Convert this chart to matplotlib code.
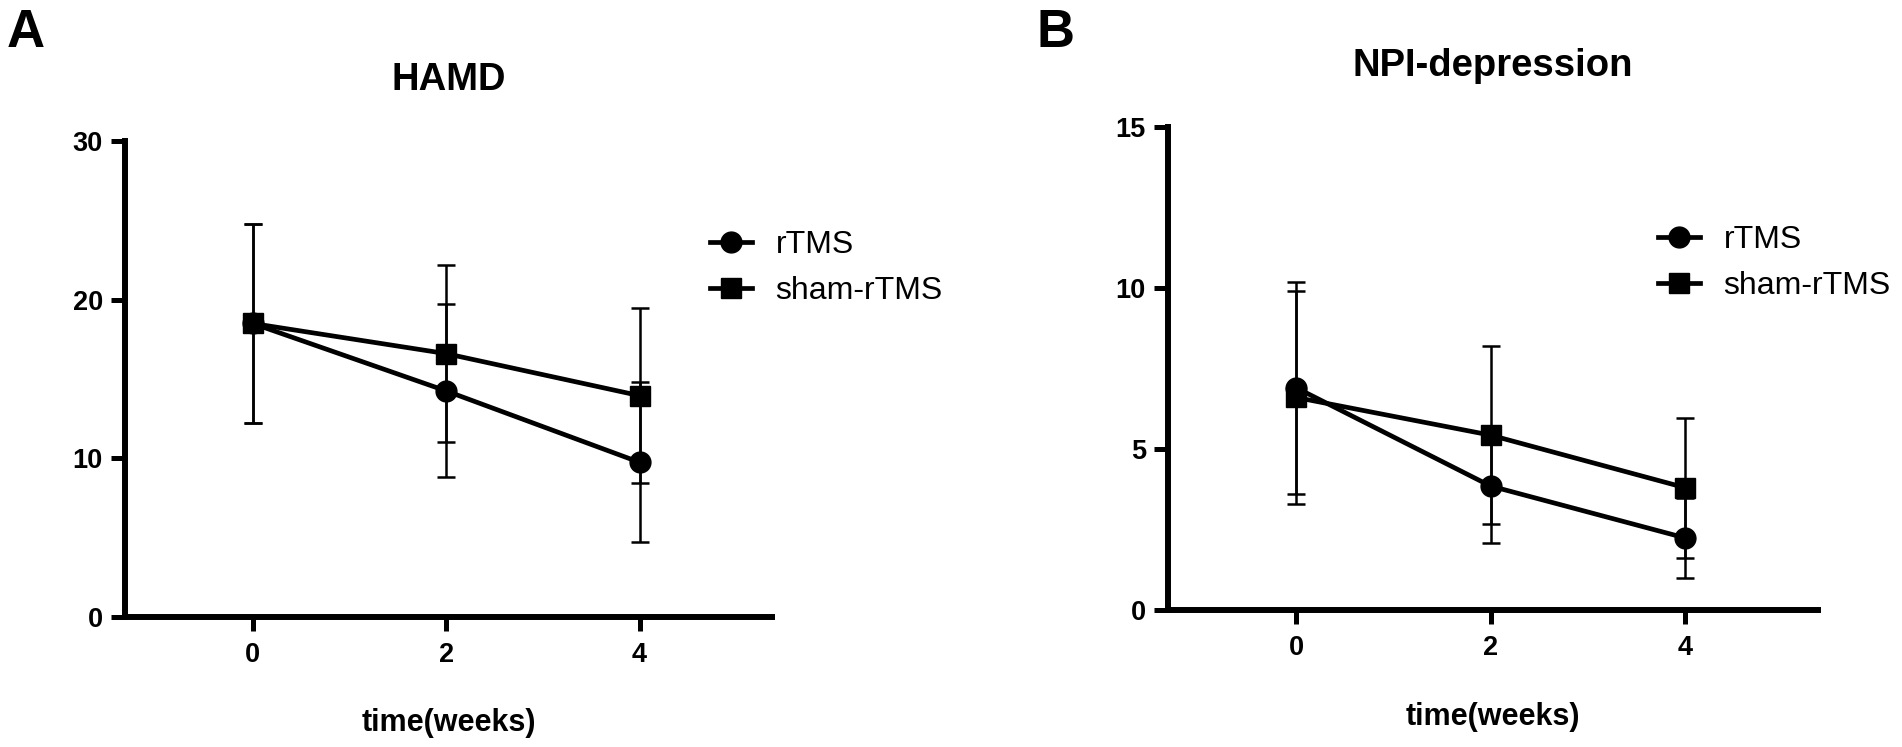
import matplotlib
matplotlib.use('Agg')
import matplotlib.pyplot as plt
import numpy as np

plt.rcParams['font.family'] = ['Liberation Sans', 'DejaVu Sans']

# time points (weeks)
weeks = [0, 2, 4]
group_labels = ['rTMS', 'sham-rTMS']

# HAMD: mean and SD per group
hamd_rtms_mean = [18.5, 14.25, 9.75]
hamd_rtms_sd = [6.3, 5.45, 5.05]
hamd_sham_mean = [18.5, 16.6, 13.95]
hamd_sham_sd = [6.3, 5.6, 5.5]
hamd_yticks = [0, 10, 20, 30]

# NPI-depression: mean and SD per group
npi_rtms_mean = [6.9, 3.85, 2.24]
npi_rtms_sd = [3.3, 1.78, 1.24]
npi_sham_mean = [6.6, 5.43, 3.8]
npi_sham_sd = [3.3, 2.76, 2.17]
npi_yticks = [0, 5, 10, 15]

W, H = 1902, 747
fig = plt.figure(figsize=(W / 100, H / 100), dpi=100)


def panel(rect, title, rt_m, rt_sd, sh_m, sh_sd, yticks, leg_xy):
    ax = fig.add_axes(rect)
    eb1 = ax.errorbar(weeks, rt_m, yerr=rt_sd, color='black', marker='o', ms=15,
                      lw=3.4, elinewidth=1.8, capsize=6.5, capthick=1.8, zorder=3)
    eb2 = ax.errorbar(weeks, sh_m, yerr=sh_sd, color='black', marker='s', ms=14,
                      lw=3.4, elinewidth=1.8, capsize=6.5, capthick=1.8, zorder=3)
    ax.set_xlim(-1.32, 5.37)
    ax.set_ylim(yticks[0], yticks[-1])
    ax.set_xticks(weeks)
    ax.set_yticks(yticks)
    for s in ['top', 'right']:
        ax.spines[s].set_visible(False)
    for s in ['left', 'bottom']:
        ax.spines[s].set_linewidth(4.3)
        ax.spines[s].set_capstyle('projecting')
    ax.tick_params(axis='both', width=3.6, length=10, labelsize=19.5)
    ax.tick_params(axis='x', pad=8)
    ax.tick_params(axis='y', pad=6)
    for lab in ax.get_xticklabels() + ax.get_yticklabels():
        lab.set_fontweight('bold')
    ax.set_title(title, fontsize=27.5, fontweight='bold', pad=36.7)
    ax.set_xlabel('time(weeks)', fontsize=22, fontweight='bold')
    ax.xaxis.label.set_va('center')
    ax.xaxis.set_label_coords(0.5, -0.222)
    ax.legend([eb1.lines[0], eb2.lines[0]], group_labels, loc='center left',
              bbox_to_anchor=(leg_xy[0] / W, 1 - leg_xy[1] / H),
              bbox_transform=fig.transFigure, frameon=False, fontsize=23,
              handlelength=1.3, handletextpad=0.75, labelspacing=0.5,
              borderpad=0, borderaxespad=0)
    return ax


panel([125 / W, 1 - 617 / H, 647 / W, 476 / H], 'HAMD',
      hamd_rtms_mean, hamd_rtms_sd, hamd_sham_mean, hamd_sham_sd, hamd_yticks, (710, 268))
panel([1168 / W, 1 - 610 / H, 650 / W, 483 / H], 'NPI-depression',
      npi_rtms_mean, npi_rtms_sd, npi_sham_mean, npi_sham_sd, npi_yticks, (1658, 263))

fig.text(7 / W, 1 - 47 / H, 'A', fontsize=38, fontweight='bold', va='baseline')
fig.text(1037 / W, 1 - 47 / H, 'B', fontsize=38, fontweight='bold', va='baseline')

fig.savefig('out.png', dpi=100)
